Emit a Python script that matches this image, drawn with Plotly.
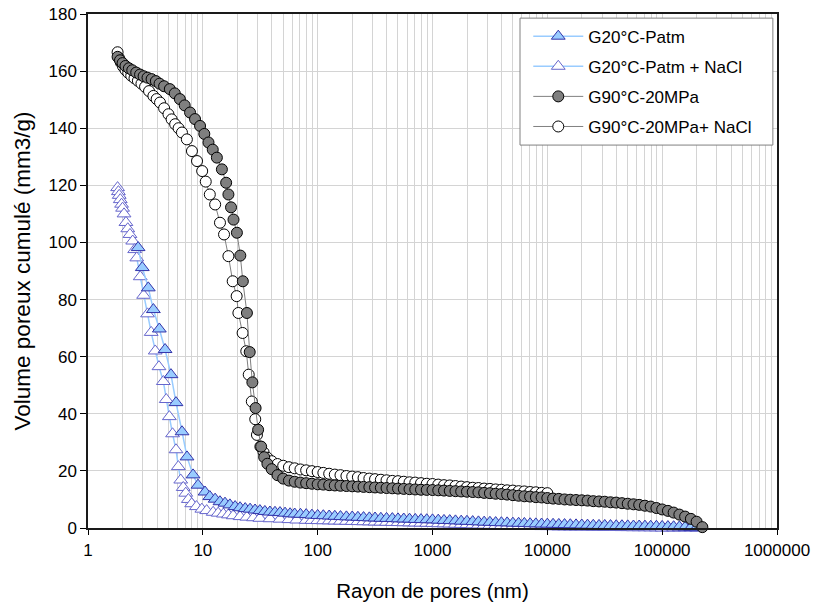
import plotly.graph_objects as go

# ---- data (x = pore radius in nm, y = cumulative pore volume) ----
g20_patm = [
    (2.73, 98.2), (2.97, 91.2), (3.35, 84.1), (3.71, 76.5), (4.18, 69.7), (4.69, 62.5),
    (5.28, 53.7), (5.84, 43.9), (6.59, 33.7), (7.28, 24.9), (8.22, 18.6), (9.08, 15.0),
    (10.45, 12.6), (11.5, 11.0), (12.8, 10.1), (14.1, 9.2), (15.6, 8.7), (17.2, 8.1),
    (19.1, 7.5), (21.1, 7.1), (23.4, 6.8), (25.8, 6.6), (28.5, 6.3), (31.4, 6.1),
    (34.7, 5.8), (38.4, 5.6), (42.5, 5.5), (47, 5.4), (52, 5.2), (57.5, 5.0),
    (63.1, 4.9), (70.8, 4.8), (79.4, 4.7), (89.1, 4.5), (100, 4.4),
    (112, 4.3), (126, 4.2), (141, 4.1), (158, 4.0), (178, 3.9),
    (200, 3.85), (224, 3.75), (251, 3.65), (282, 3.55), (316, 3.5),
    (355, 3.4), (398, 3.35), (447, 3.3), (501, 3.2),
    (562, 3.15), (631, 3.1), (708, 3.0), (794, 2.95), (891, 2.9),
    (1000, 2.85), (1122, 2.75), (1259, 2.65), (1413, 2.6), (1585, 2.5),
    (1778, 2.4), (1995, 2.35), (2239, 2.25), (2512, 2.15), (2818, 2.05),
    (3162, 2.0), (3548, 1.9), (3981, 1.85), (4467, 1.8), (5012, 1.7),
    (5623, 1.65), (6310, 1.6), (7079, 1.5), (7943, 1.45), (8913, 1.4),
    (10000, 1.35), (11220, 1.3), (12589, 1.25), (14125, 1.2), (15849, 1.15),
    (17783, 1.1), (19953, 1.05), (22387, 1.0), (25119, 0.95), (28184, 0.9),
    (31623, 0.9), (35481, 0.85), (39811, 0.8), (44668, 0.8), (50119, 0.75),
    (56234, 0.7), (63096, 0.7), (70795, 0.65), (79433, 0.6), (89125, 0.6),
    (100000, 0.55), (112200, 0.5), (125890, 0.45), (141250, 0.4), (158490, 0.3),
    (177830, 0.2), (199530, 0.1),
]

g20_patm_nacl = [
    (1.81, 119.2), (1.84, 117.8), (1.87, 116.5), (1.91, 115.0), (1.96, 113.4), (2.0, 112.0),
    (2.06, 110.0), (2.14, 107.0), (2.22, 104.8), (2.32, 102.8), (2.45, 100.5), (2.55, 97.5),
    (2.66, 94.6), (2.85, 88.0), (3.05, 81.5), (3.3, 75.0), (3.55, 68.5), (3.85, 62.0),
    (4.15, 56.5), (4.53, 51.3), (4.8, 45.0), (5.11, 39.0), (5.45, 33.0), (5.84, 27.4),
    (6.12, 21.5), (6.42, 16.8), (6.75, 14.2), (7.1, 12.2), (7.48, 10.0), (8.0, 8.5),
    (8.8, 7.5), (9.8, 6.6), (10.8, 6.1), (12.3, 5.5), (13.6, 5.2), (15.1, 4.9),
    (16.7, 4.6), (18.4, 4.3), (21.1, 4.0), (24.2, 3.8), (27.6, 3.6), (31.4, 3.4),
    (38.4, 3.25), (47, 3.1), (56.2, 2.95), (65.7, 2.8), (79.4, 2.7), (89.1, 2.65),
    (100, 2.6), (112, 2.55), (126, 2.5), (141, 2.45), (158, 2.4), (178, 2.35),
    (200, 2.3), (224, 2.25), (251, 2.2), (282, 2.15), (316, 2.1), (355, 2.05),
    (398, 2.0), (447, 1.95), (501, 1.9), (562, 1.85), (631, 1.8), (708, 1.75),
    (794, 1.7), (891, 1.65), (1000, 1.6), (1122, 1.5), (1259, 1.45), (1413, 1.4),
    (1585, 1.3), (1778, 1.25), (1995, 1.2), (2239, 1.1), (2512, 1.05), (2818, 1.0),
    (3162, 0.95), (3548, 0.9), (3981, 0.85), (4467, 0.8), (5012, 0.75), (5623, 0.7),
    (6310, 0.65), (7079, 0.6), (7943, 0.55), (8913, 0.5), (10000, 0.5), (11220, 0.45),
    (12589, 0.4), (14125, 0.4), (15849, 0.35), (17783, 0.35), (19953, 0.3), (22387, 0.3),
    (25119, 0.25), (28184, 0.25), (31623, 0.2), (35481, 0.2), (39811, 0.2), (44668, 0.15),
    (50119, 0.15), (56234, 0.1), (63096, 0.1), (70795, 0.1), (79433, 0.05), (89125, 0.05),
    (100000, 0.0), (112200, 0.0), (125890, 0.0), (141250, 0.0), (158490, 0.0),
    (177830, 0.0), (199530, 0.0),
]

g90_20mpa = [
    (1.81, 165.0), (1.9, 163.8), (2.0, 162.8), (2.12, 161.8), (2.27, 161.0), (2.43, 160.3),
    (2.63, 159.5), (2.84, 158.8), (3.05, 158.2), (3.3, 157.7), (3.58, 157.2), (3.9, 156.5),
    (4.2, 155.6), (4.6, 154.7), (5.16, 153.7), (5.7, 152.2), (6.31, 150.2), (6.95, 148.0),
    (7.74, 145.5), (8.55, 143.2), (9.46, 140.8), (10.3, 138.0), (11.2, 135.0), (12.2, 132.5),
    (13.25, 129.7), (14.65, 125.6), (15.96, 120.9), (16.7, 116.8), (17.6, 112.3), (18.5, 108.0),
    (19.8, 103.4), (21.2, 95.4), (22.3, 86.4), (24.2, 75.3), (25.6, 61.6), (27.0, 51.0),
    (28.8, 42.0), (30.3, 34.4), (32.2, 28.5), (34.2, 24.8), (36.5, 22.5), (39.8, 20.6),
    (44.7, 18.5), (50.1, 17.3), (56.2, 16.6), (63.1, 16.2), (70.8, 15.9), (79.4, 15.7),
    (89.1, 15.5), (100, 15.3), (112, 15.2), (126, 15.0), (141, 14.9), (158, 14.8),
    (178, 14.7), (200, 14.6), (224, 14.5), (251, 14.4), (282, 14.3), (316, 14.2),
    (355, 14.1), (398, 14.0), (447, 13.9), (501, 13.8), (562, 13.7), (631, 13.6),
    (708, 13.5), (794, 13.4), (891, 13.35), (1000, 13.3), (1122, 13.2), (1259, 13.1),
    (1413, 13.0), (1585, 12.9), (1778, 12.8), (1995, 12.7), (2239, 12.6), (2512, 12.5),
    (2818, 12.3), (3162, 12.2), (3548, 12.0), (3981, 11.9), (4467, 11.7), (5012, 11.5),
    (5623, 11.3), (6310, 11.1), (7079, 11.0), (7943, 10.8), (8913, 10.7), (10000, 10.5),
    (11220, 10.3), (12589, 10.2), (14125, 10.0), (15849, 9.9), (17783, 9.8), (19953, 9.7),
    (22387, 9.6), (25119, 9.4), (28184, 9.3), (31623, 9.2), (35481, 9.0), (39811, 8.9),
    (44668, 8.7), (50119, 8.5), (56234, 8.3), (63096, 8.1), (70795, 7.8), (79433, 7.5),
    (89125, 7.0), (100000, 6.5), (112200, 6.0), (125890, 5.4), (141250, 4.7), (158490, 4.0),
    (177830, 3.2), (199530, 2.2), (223870, 0.3),
]

g90_20mpa_nacl = [
    (1.81, 166.6), (1.86, 164.6), (1.93, 163.0), (2.02, 161.6), (2.12, 160.4), (2.24, 159.4),
    (2.38, 158.4), (2.54, 157.5), (2.72, 156.6), (2.92, 155.6), (3.14, 154.5), (3.4, 153.0),
    (3.71, 151.3), (3.96, 150.2), (4.24, 149.0), (4.6, 147.0), (5.02, 144.9), (5.35, 143.1),
    (5.74, 141.4), (6.15, 140.0), (6.58, 138.5), (7.26, 136.1), (8.04, 132.0), (8.9, 128.5),
    (9.87, 125.0), (10.6, 121.3), (11.5, 116.8), (12.8, 113.3), (14.1, 106.9), (15.3, 102.8),
    (16.7, 95.2), (18.2, 86.4), (19.7, 81.2), (20.4, 75.3), (22.2, 68.3), (23.9, 61.9),
    (25.1, 53.7), (26.7, 44.3), (28.6, 38.1), (29.6, 32.6), (31.7, 28.5), (33.8, 26.5),
    (36.5, 24.6), (39.8, 23.4), (44.7, 22.4), (50.1, 21.8), (56.2, 21.3), (63.1, 20.9),
    (70.8, 20.5), (79.4, 20.2), (89.1, 19.9), (100, 19.6), (112, 19.3), (126, 19.0),
    (141, 18.7), (158, 18.5), (178, 18.2), (200, 18.0), (224, 17.8), (251, 17.5),
    (282, 17.3), (316, 17.1), (355, 16.9), (398, 16.7), (447, 16.5), (501, 16.4),
    (562, 16.2), (631, 16.0), (708, 15.9), (794, 15.7), (891, 15.5), (1000, 15.4),
    (1122, 15.2), (1259, 15.0), (1413, 14.9), (1585, 14.7), (1778, 14.5), (1995, 14.3),
    (2239, 14.1), (2512, 14.0), (2818, 13.8), (3162, 13.7), (3548, 13.5), (3981, 13.4),
    (4467, 13.2), (5012, 13.1), (5623, 12.9), (6310, 12.8), (7079, 12.6), (7943, 12.5),
    (8913, 12.3), (10000, 12.2),
]

x_tick_vals = [1, 10, 100, 1000, 10000, 100000, 1000000]
x_tick_text = ["1", "10", "100", "1000", "10000", "100000", "1000000"]
y_tick_vals = [0, 20, 40, 60, 80, 100, 120, 140, 160, 180]

series_names = ["G20°C-Patm", "G20°C-Patm + NaCl", "G90°C-20MPa", "G90°C-20MPa+ NaCl"]

# minor grid positions (2..9 in each decade)
minor_vals = [m * d for d in x_tick_vals[:-1] for m in range(2, 10)]

FONT = "Arial, 'Liberation Sans', sans-serif"


def xs(s):
    return [p[0] for p in s]


def ys(s):
    return [p[1] for p in s]


fig = go.Figure()

# drawing order: open markers below filled ones
fig.add_trace(go.Scatter(
    x=xs(g20_patm_nacl), y=ys(g20_patm_nacl), name=series_names[1], legendrank=2,
    legendgroup="b", mode="lines+markers", cliponaxis=False,
    line=dict(color="#99CCFF", width=1.5),
    marker=dict(symbol="triangle-up", size=12, color="#FFFFFF",
                line=dict(color="#6666CC", width=1)),
))
fig.add_trace(go.Scatter(
    x=xs(g20_patm), y=ys(g20_patm), name=series_names[0], legendrank=1,
    legendgroup="a", mode="lines+markers", cliponaxis=False,
    line=dict(color="#99CCFF", width=1.5),
    marker=dict(symbol="triangle-up", size=12, color="#99CCFF",
                line=dict(color="#3333AA", width=1)),
))
fig.add_trace(go.Scatter(
    x=xs(g90_20mpa_nacl), y=ys(g90_20mpa_nacl), name=series_names[3], legendrank=4,
    legendgroup="d", mode="lines+markers", cliponaxis=False,
    line=dict(color="#808080", width=1),
    marker=dict(symbol="circle", size=11, color="#FFFFFF",
                line=dict(color="#000000", width=1)),
))
fig.add_trace(go.Scatter(
    x=xs(g90_20mpa), y=ys(g90_20mpa), name=series_names[2], legendrank=3,
    legendgroup="c", mode="lines+markers", cliponaxis=False,
    line=dict(color="#808080", width=1),
    marker=dict(symbol="circle", size=11, color="#7F7F7F",
                line=dict(color="#000000", width=1)),
))

# legend frame (white box hiding grid lines)
fig.add_shape(type="rect", xref="paper", yref="paper",
              x0=0.627, x1=0.994, y0=0.745, y1=0.992,
              fillcolor="white", line=dict(color="#808080", width=1), layer="above")

fig.update_layout(
    width=813, height=605,
    margin=dict(l=88, r=36, t=14, b=77),
    paper_bgcolor="white", plot_bgcolor="white",
    font=dict(family=FONT, size=17, color="#000000"),
    showlegend=True,
    legend=dict(
        x=0.639, y=0.991, xanchor="left", yanchor="top",
        bgcolor="rgba(0,0,0,0)", borderwidth=0,
        font=dict(family=FONT, size=17, color="#000000"),
        itemwidth=50, traceorder="grouped", tracegroupgap=5,
    ),
    xaxis=dict(
        type="log", range=[0, 6],
        tickmode="array", tickvals=x_tick_vals, ticktext=x_tick_text,
        ticks="outside", ticklen=5, tickcolor="#000000", ticklabelstandoff=1,
        showline=True, linecolor="#1a1a1a", linewidth=1.5, mirror=True,
        showgrid=True, gridcolor="#D4D4D4", gridwidth=1,
        minor=dict(tickmode="array", tickvals=minor_vals, showgrid=True,
                   gridcolor="#D4D4D4", gridwidth=1, ticks=""),
        zeroline=False,
        title=dict(text="Rayon de pores (nm)", font=dict(family=FONT, size=20.5), standoff=24),
        automargin=False,
    ),
    yaxis=dict(
        range=[0, 180], tickmode="array", tickvals=y_tick_vals,
        ticks="outside", ticklen=6, tickcolor="#000000",
        showline=True, linecolor="#1a1a1a", linewidth=1.5, mirror=True,
        showgrid=True, gridcolor="#D4D4D4", gridwidth=1,
        zeroline=False,
        title=dict(text="Volume poreux cumulé (mm3/g)", font=dict(family=FONT, size=22.5), standoff=12),
        automargin=False,
    ),
)

fig.write_html(
    "out.html",
    config={"displayModeBar": False},
    post_script=(
        "document.body.style.margin='0px';"
        "document.body.style.overflow='hidden';"
        "document.documentElement.style.overflow='hidden';"
    ),
)
